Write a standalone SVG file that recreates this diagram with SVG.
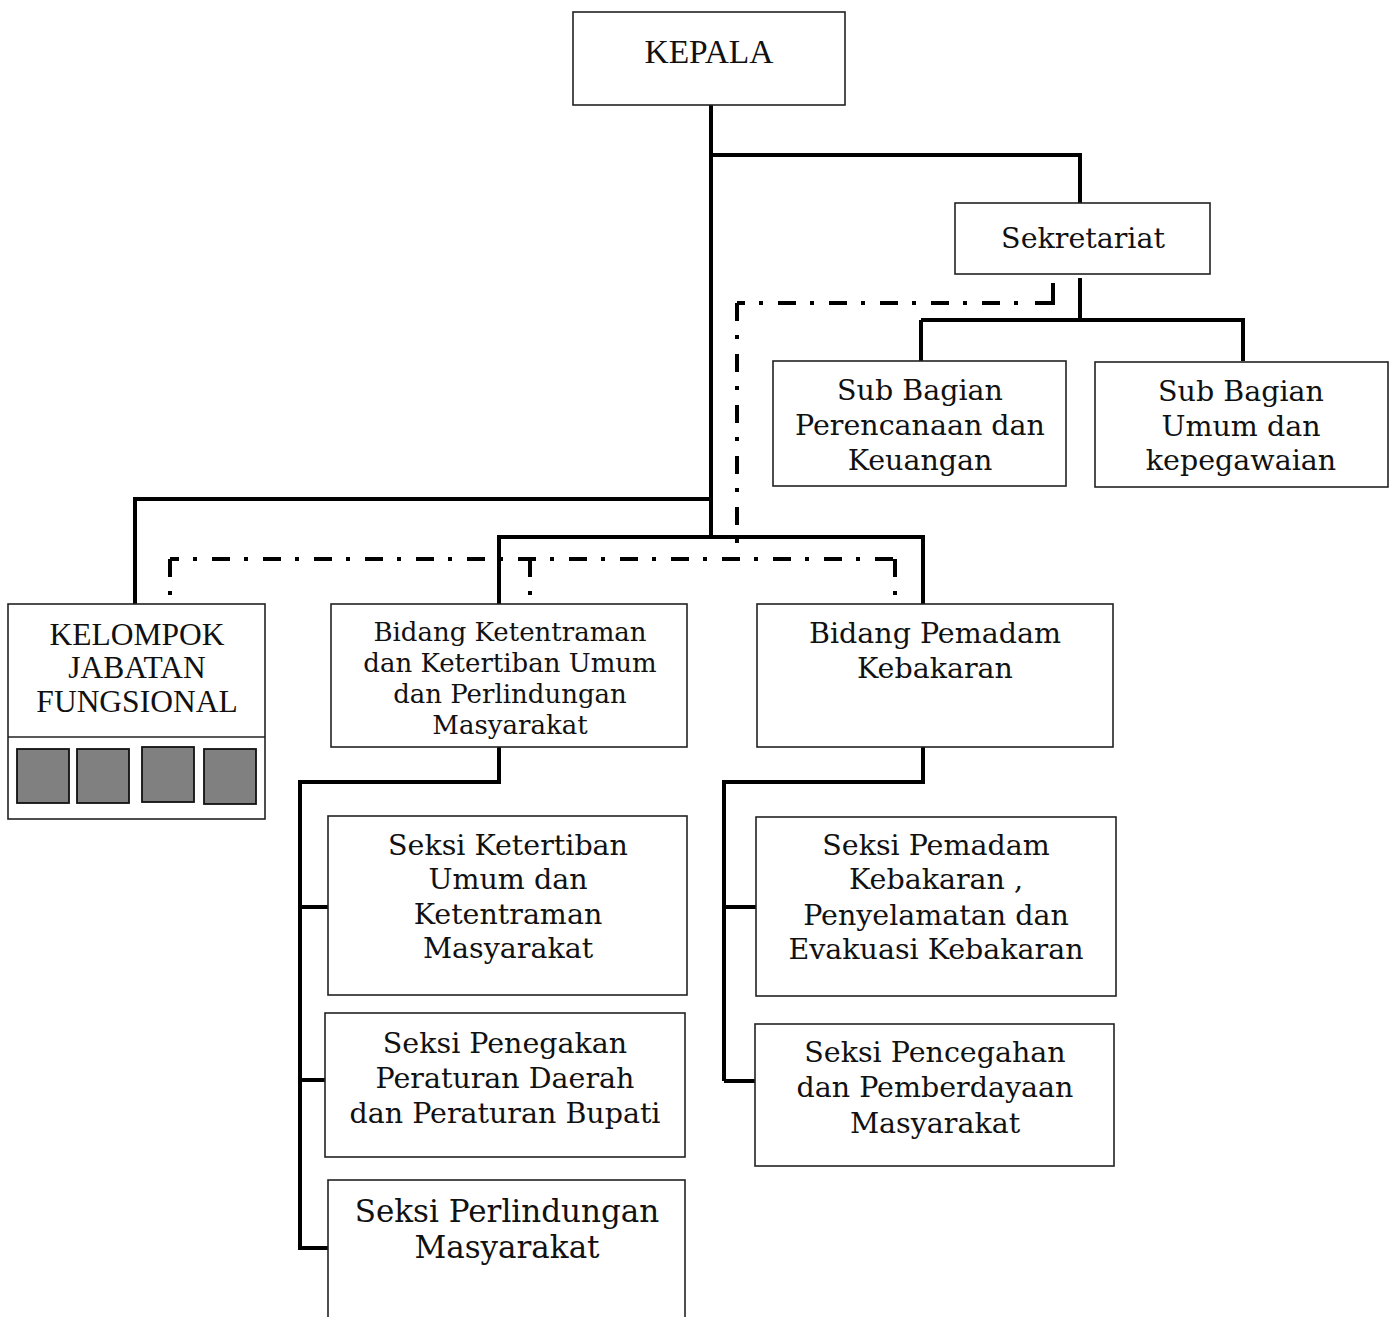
<svg xmlns="http://www.w3.org/2000/svg" width="1397" height="1317" viewBox="0 0 1397 1317">
<style>
.box{fill:#fff;stroke:#222;stroke-width:1.6}
.sq{fill:#808080;stroke:#111;stroke-width:1.8}
.c{fill:none;stroke:#000;stroke-width:4}
.d{fill:none;stroke:#000;stroke-width:4;stroke-dasharray:18 14 4 15}
.t{font-family:"DejaVu Serif","Liberation Serif",serif;font-size:28.5px;fill:#111;text-anchor:middle}
.s{font-size:26px}
.tm{font-family:"Liberation Serif","Times New Roman",serif;font-size:31.5px;fill:#111;text-anchor:middle}
</style>
<rect width="1397" height="1317" fill="#fff"/>
<g id="connectors">
<path class="c" d="M711,105 V537"/>
<path class="c" d="M711,155 H1080 V203"/>
<path class="c" d="M1080,278 V320"/>
<path class="c" d="M921,320 H1243 V361"/>
<path class="c" d="M921,320 V361"/>
<path class="c" d="M711,499 H135 V604"/>
<path class="c" d="M499,604 V537 H923 V604"/>
<path class="c" d="M499,747 V782 H300 V1250"/>
<path class="c" d="M300,907 H333"/>
<path class="c" d="M300,1080 H330"/>
<path class="c" d="M300,1248 H330"/>
<path class="c" d="M923,747 V782 H724 V1081"/>
<path class="c" d="M724,907 H757"/>
<path class="c" d="M724,1081 H755"/>
<path class="c" d="M1035,303 H1053 V283"/>
<path class="d" style="stroke-dashoffset:10" d="M737,303 H1030"/>
<path class="d" d="M737,303 V559"/>
<path class="d" style="stroke-dashoffset:9" d="M170,559 H897"/>
<path class="d" d="M170,559 V597"/>
<path class="d" d="M530,559 V597"/>
<path class="d" d="M895,559 V597"/>
</g>
<g id="kepala">
<rect class="box" x="573" y="12" width="272" height="93"/>
<text class="tm" x="709" y="63" style="font-size:33.5px">KEPALA</text>
</g>
<g id="sekretariat">
<rect class="box" x="955" y="203" width="255" height="71"/>
<text class="t" x="1083" y="248">Sekretariat</text>
</g>
<g id="subbag-perencanaan">
<rect class="box" x="773" y="361" width="293" height="125"/>
<text class="t" x="920" y="400">Sub Bagian</text>
<text class="t" x="920" y="435">Perencanaan dan</text>
<text class="t" x="920" y="470">Keuangan</text>
</g>
<g id="subbag-umum">
<rect class="box" x="1095" y="362" width="293" height="125"/>
<text class="t" x="1241" y="401">Sub Bagian</text>
<text class="t" x="1241" y="436">Umum dan</text>
<text class="t" x="1241" y="470">kepegawaian</text>
</g>
<g id="kelompok">
<rect class="box" x="8" y="604" width="257" height="215"/>
<line x1="8" y1="737" x2="265" y2="737" stroke="#222" stroke-width="1.6"/>
<text class="tm" x="137" y="645">KELOMPOK</text>
<text class="tm" x="137" y="678">JABATAN</text>
<text class="tm" x="137" y="712">FUNGSIONAL</text>
<rect class="sq" x="17" y="749" width="52" height="54"/>
<rect class="sq" x="77" y="749" width="52" height="54"/>
<rect class="sq" x="142" y="747" width="52" height="55"/>
<rect class="sq" x="204" y="749" width="52" height="55"/>
</g>
<g id="bidang-ketentraman">
<rect class="box" x="331" y="604" width="356" height="143"/>
<text class="t s" x="510" y="641">Bidang Ketentraman</text>
<text class="t s" x="510" y="672">dan Ketertiban Umum</text>
<text class="t s" x="510" y="703">dan Perlindungan</text>
<text class="t s" x="510" y="734">Masyarakat</text>
</g>
<g id="bidang-pemadam">
<rect class="box" x="757" y="604" width="356" height="143"/>
<text class="t" x="935" y="643">Bidang Pemadam</text>
<text class="t" x="935" y="678">Kebakaran</text>
</g>
<g id="seksi-ketertiban">
<rect class="box" x="328" y="816" width="359" height="179"/>
<text class="t" x="508" y="855">Seksi Ketertiban</text>
<text class="t" x="508" y="889">Umum dan</text>
<text class="t" x="508" y="924">Ketentraman</text>
<text class="t" x="508" y="958">Masyarakat</text>
</g>
<g id="seksi-penegakan">
<rect class="box" x="325" y="1013" width="360" height="144"/>
<text class="t" x="505" y="1053">Seksi Penegakan</text>
<text class="t" x="505" y="1088">Peraturan Daerah</text>
<text class="t" x="505" y="1123">dan Peraturan Bupati</text>
</g>
<g id="seksi-perlindungan">
<rect class="box" x="328" y="1180" width="357" height="160"/>
<text class="t" x="507" y="1222" style="font-size:31px">Seksi Perlindungan</text>
<text class="t" x="507" y="1258" style="font-size:31px">Masyarakat</text>
</g>
<g id="seksi-pemadam">
<rect class="box" x="756" y="817" width="360" height="179"/>
<text class="t" x="936" y="855">Seksi Pemadam</text>
<text class="t" x="936" y="889">Kebakaran ,</text>
<text class="t" x="936" y="925">Penyelamatan dan</text>
<text class="t" x="936" y="959">Evakuasi Kebakaran</text>
</g>
<g id="seksi-pencegahan">
<rect class="box" x="755" y="1024" width="359" height="142"/>
<text class="t" x="935" y="1062">Seksi Pencegahan</text>
<text class="t" x="935" y="1097">dan Pemberdayaan</text>
<text class="t" x="935" y="1133">Masyarakat</text>
</g>
</svg>
